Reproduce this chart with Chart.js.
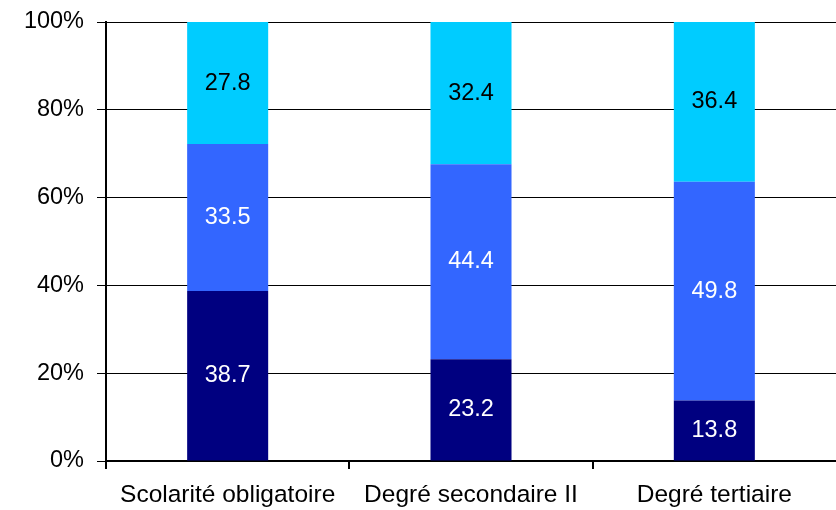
<!DOCTYPE html>
<html>
<head>
<meta charset="utf-8">
<script src="https://cdn.jsdelivr.net/npm/chart.js@4"></script>
<style>
  html, body { margin: 0; padding: 0; background: #fff; }
  #wrap { width: 836px; height: 510px; }
</style>
</head>
<body>
<div id="wrap"><canvas id="chart" width="836" height="510"></canvas></div>
<script>
"use strict";

// data
const categories = ["Scolarité obligatoire", "Degré secondaire II", "Degré tertiaire"];
const bottomValues = [38.7, 23.2, 13.8];
const middleValues = [33.5, 44.4, 49.8];
const topValues = [27.8, 32.4, 36.4];
const yTicks = [0, 20, 40, 60, 80, 100];

const font = { family: "'Liberation Sans', Arial, sans-serif", size: 23.5 };
const xFont = { family: "'Liberation Sans', Arial, sans-serif", size: 24.5 };

// write the value in the middle of every segment
const segmentLabels = {
  id: "segmentLabels",
  afterDatasetsDraw(chart) {
    const ctx = chart.ctx;
    ctx.save();
    ctx.font = `${font.size}px ${font.family}`;
    ctx.textAlign = "center";
    ctx.textBaseline = "middle";
    chart.data.datasets.forEach((ds, i) => {
      chart.getDatasetMeta(i).data.forEach((bar, j) => {
        ctx.fillStyle = ds.labelColor;
        ctx.fillText(ds.data[j].toFixed(1), bar.x, (bar.y + bar.base) / 2);
      });
    });
    ctx.restore();
  },
};

new Chart(document.getElementById("chart"), {
  type: "bar",
  data: {
    labels: categories,
    datasets: [
      { data: bottomValues, backgroundColor: "#000080", labelColor: "#ffffff" },
      { data: middleValues, backgroundColor: "#3366ff", labelColor: "#ffffff" },
      { data: topValues, backgroundColor: "#00ccff", labelColor: "#000000" },
    ],
  },
  options: {
    responsive: false,
    animation: false,
    categoryPercentage: 1,
    barPercentage: 0.333,
    layout: { padding: { top: 22, right: 0, left: 0, bottom: 0 } },
    plugins: { legend: { display: false }, tooltip: { enabled: false } },
    scales: {
      x: {
        stacked: true,
        grid: {
          display: true,
          drawOnChartArea: false,
          // the last boundary tick falls at the canvas edge and is not drawn in the reference
          color: (c) => (c.type === "tick" ? "#000" : "rgba(0,0,0,0)"),
          tickLength: 8,
          lineWidth: 2,
        },
        border: { color: "#000", width: 2 },
        ticks: { color: "#000", font: xFont, padding: 12, maxRotation: 0 },
        afterFit(scale) { scale.height = 49; },
      },
      y: {
        stacked: true,
        min: 0,
        max: 100,
        afterBuildTicks(scale) { scale.ticks = yTicks.map((v) => ({ value: v })); },
        grid: { color: "#000", lineWidth: 1, tickLength: 9 },
        border: { color: "#000", width: 2 },
        ticks: { color: "#000", font: font, padding: 13, callback: (v) => v + "%" },
        afterFit(scale) {
          scale.width = 106;
          scale.paddingTop = 0;
          scale.paddingBottom = 0;
        },
      },
    },
  },
  plugins: [segmentLabels],
});
</script>
</body>
</html>
